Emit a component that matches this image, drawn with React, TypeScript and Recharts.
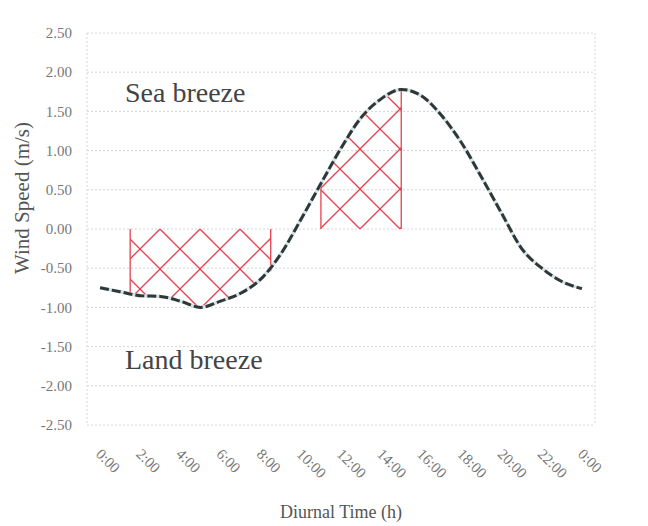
import React from 'react';
import { ComposedChart, Line, Area, XAxis, YAxis, CartesianGrid, ReferenceLine } from 'recharts';

const hours = [0, 1, 2, 3, 4, 5, 6, 7, 8, 9, 10, 11, 12, 13, 14, 15, 16, 17, 18, 19, 20, 21, 22, 23, 24];
const speed = [-0.75, -0.8, -0.85, -0.86, -0.92, -1.0, -0.92, -0.82, -0.64, -0.32, 0.12, 0.58, 1.03, 1.42, 1.66, 1.78, 1.7, 1.45, 1.1, 0.66, 0.2, -0.25, -0.5, -0.67, -0.76];
const landHatchT = [1.5, 2, 3, 4, 5, 6, 7, 8, 8.5];
const landHatchV = [-0.82, -0.85, -0.86, -0.92, -1.0, -0.92, -0.82, -0.64, -0.54];
const seaHatchT = [11, 12, 13, 14, 15];
const seaHatchV = [0.58, 1.03, 1.42, 1.66, 1.78];
const yTicks = [-2.5, -2.0, -1.5, -1.0, -0.5, 0, 0.5, 1.0, 1.5, 2.0, 2.5];
const xTicks = [0, 2, 4, 6, 8, 10, 12, 14, 16, 18, 20, 22, 24];
const xTickLabels = ['0:00', '2:00', '4:00', '6:00', '8:00', '10:00', '12:00', '14:00', '16:00', '18:00', '20:00', '22:00', '0:00'];

type Row = { t: number; speed?: number; land?: number; sea?: number };
const allT = Array.from(new Set([...hours, ...landHatchT, ...seaHatchT])).sort((a, b) => a - b);
const table: Row[] = allT.map((t) => {
  const r: Row = { t };
  const hi = hours.indexOf(t);
  if (hi >= 0) r.speed = speed[hi];
  const li = landHatchT.indexOf(t);
  if (li >= 0) r.land = landHatchV[li];
  const si = seaHatchT.indexOf(t);
  if (si >= 0) r.sea = seaHatchV[si];
  return r;
});

const FONT = '"Liberation Serif", "Times New Roman", serif';
const RED = '#e6404f';

const XTick = (props: any) => {
  const { x, y, payload } = props;
  const i = xTicks.indexOf(payload.value);
  const ax = x - 5;
  const ay = y + 30;
  return (
    <text x={ax} y={ay} transform={`rotate(45 ${ax} ${ay})`} textAnchor="start" fontFamily={FONT} fontSize={15} fill="#777">
      {xTickLabels[i]}
    </text>
  );
};

const YTick = (props: any) => {
  const { x, y, payload } = props;
  return (
    <text x={x} y={y} dy="0.35em" textAnchor="end" fontFamily={FONT} fontSize={15} fill="#777">
      {Number(payload.value).toFixed(2)}
    </text>
  );
};

export default function App() {
  return (
    <div style={{ position: 'absolute', left: 0, top: 0, width: 648, height: 526, background: '#fff' }}>
      <ComposedChart width={648} height={526} data={table} margin={{ top: 33, right: 53, left: 27, bottom: 21 }}>
        <defs>
          <pattern id="hatch" patternUnits="userSpaceOnUse" x={0} y={229} width={40} height={40}>
            <line x1={0} y1={0} x2={40} y2={40} stroke={RED} strokeWidth={1.3} />
            <line x1={40} y1={0} x2={0} y2={40} stroke={RED} strokeWidth={1.3} />
          </pattern>
        </defs>
        <CartesianGrid
          stroke="#d6d6d6"
          strokeDasharray="2 2"
          verticalCoordinatesGenerator={({ offset }: any) => [offset.left, offset.left + offset.width]}
        />
        <XAxis
          type="number"
          dataKey="t"
          domain={[-0.65, 24.65]}
          ticks={xTicks}
          interval={0}
          axisLine={false}
          tickLine={false}
          tickSize={0}
          tickMargin={0}
          height={80}
          tick={<XTick />}
        />
        <YAxis
          type="number"
          domain={[-2.5, 2.5]}
          ticks={yTicks}
          interval={0}
          width={60}
          axisLine={false}
          tickLine={false}
          tickSize={0}
          tickMargin={15}
          tick={<YTick />}
        />
        <Area dataKey="land" type="monotone" baseValue={0} stroke="none" fill="url(#hatch)" fillOpacity={1} isAnimationActive={false} dot={false} activeDot={false} />
        <Area dataKey="sea" type="monotone" baseValue={0} stroke="none" fill="url(#hatch)" fillOpacity={1} isAnimationActive={false} dot={false} activeDot={false} />
        <ReferenceLine segment={[{ x: landHatchT[0], y: 0 }, { x: landHatchT[0], y: landHatchV[0] }]} stroke={RED} strokeWidth={1.3} />
        <ReferenceLine segment={[{ x: landHatchT[landHatchT.length - 1], y: 0 }, { x: landHatchT[landHatchT.length - 1], y: landHatchV[landHatchV.length - 1] }]} stroke={RED} strokeWidth={1.3} />
        <ReferenceLine segment={[{ x: seaHatchT[0], y: 0 }, { x: seaHatchT[0], y: seaHatchV[0] }]} stroke={RED} strokeWidth={1.3} />
        <ReferenceLine segment={[{ x: seaHatchT[seaHatchT.length - 1], y: 0 }, { x: seaHatchT[seaHatchT.length - 1], y: seaHatchV[seaHatchV.length - 1] }]} stroke={RED} strokeWidth={1.3} />
        <Line dataKey="speed" type="monotone" stroke="#d3e1e8" strokeWidth={3.5} dot={false} activeDot={false} connectNulls isAnimationActive={false} />
        <Line dataKey="speed" type="monotone" stroke="#2f3835" strokeWidth={3} strokeDasharray="9 3" dot={false} activeDot={false} connectNulls isAnimationActive={false} />
      </ComposedChart>
      <div style={{ position: 'absolute', left: 125, top: 79, fontFamily: FONT, fontSize: 28, lineHeight: 1, color: '#444', whiteSpace: 'nowrap' }}>Sea breeze</div>
      <div style={{ position: 'absolute', left: 125, top: 346, fontFamily: FONT, fontSize: 28, lineHeight: 1, color: '#444', whiteSpace: 'nowrap' }}>Land breeze</div>
      <div style={{ position: 'absolute', left: 341, top: 503, transform: 'translateX(-50%)', fontFamily: FONT, fontSize: 18, lineHeight: 1, color: '#555', whiteSpace: 'nowrap' }}>Diurnal Time (h)</div>
      <div style={{ position: 'absolute', left: 22, top: 198, transform: 'translate(-50%, -50%) rotate(-90deg)', fontFamily: FONT, fontSize: 21, lineHeight: 1, color: '#555', whiteSpace: 'nowrap' }}>Wind Speed (m/s)</div>
    </div>
  );
}
